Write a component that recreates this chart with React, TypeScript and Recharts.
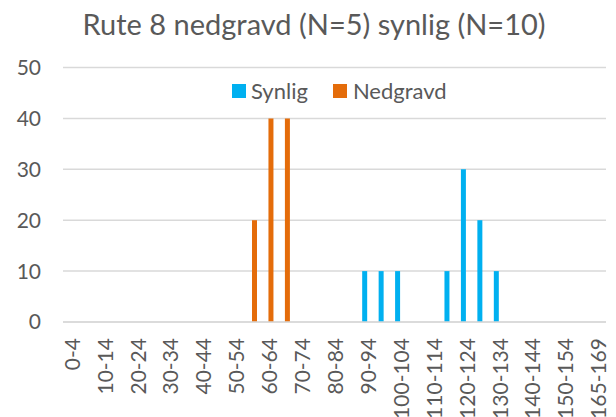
import React from "react";
import { BarChart, Bar, XAxis, YAxis, CartesianGrid, Legend } from "recharts";

const categories = [
  "0-4", "5-9", "10-14", "15-19", "20-24", "25-29", "30-34", "35-39",
  "40-44", "45-49", "50-54", "55-59", "60-64", "65-69", "70-74", "75-79",
  "80-84", "85-89", "90-94", "95-99", "100-104", "105-109", "110-114",
  "115-119", "120-124", "125-129", "130-134", "135-139", "140-144",
  "145-149", "150-154", "155-159", "165-169",
];

const synlig = [
  0, 0, 0, 0, 0, 0, 0, 0, 0, 0, 0, 0, 0, 0, 0, 0, 0, 0,
  10, 10, 10, 0, 0, 10, 30, 20, 10, 0, 0, 0, 0, 0, 0,
];

const nedgravd = [
  0, 0, 0, 0, 0, 0, 0, 0, 0, 0, 0, 20, 40, 40, 0, 0, 0, 0,
  0, 0, 0, 0, 0, 0, 0, 0, 0, 0, 0, 0, 0, 0, 0,
];

const yTicks = [0, 10, 20, 30, 40, 50];

const TITLE = "Rute 8 nedgravd (N=5) synlig (N=10)";
const FONT = "Lato, 'Liberation Sans', sans-serif";
const TEXT = "#595959";
const BLUE = "#00B0F0";
const ORANGE = "#E46C0A";

const data = categories.map((c, i) => ({
  name: c,
  Synlig: synlig[i],
  Nedgravd: nedgravd[i],
}));

// rotated category labels, reading bottom to top like Excel
const XTick = (props: any) => {
  const { x, y, payload } = props;
  return (
    <text
      x={x}
      y={y}
      transform={`rotate(-90 ${x} ${y})`}
      textAnchor="end"
      dominantBaseline="central"
      fill={TEXT}
      fontSize={21}
      fontFamily={FONT}
    >
      {payload.value}
    </text>
  );
};

const LegendBox = () => (
  <div style={{ display: "flex", alignItems: "center", fontFamily: FONT, fontSize: 22, color: TEXT, lineHeight: 1 }}>
    <span style={{ width: 14, height: 14, background: BLUE, display: "inline-block", marginRight: 5 }} />
    <span style={{ marginRight: 25 }}>Synlig</span>
    <span style={{ width: 14, height: 14, background: ORANGE, display: "inline-block", marginRight: 6 }} />
    <span>Nedgravd</span>
  </div>
);

export default function App() {
  return (
    <div style={{ position: "absolute", left: 0, top: 0, width: 616, height: 417, background: "#fff" }}>
      <BarChart
        width={616}
        height={417}
        data={data}
        margin={{ top: 67.5, right: 10, left: 0, bottom: 0 }}
        barGap={0}
        barSize={5}
      >
        <CartesianGrid vertical={false} stroke="#d9d9d9" strokeWidth={1.5} />
        <XAxis
          dataKey="name"
          interval={1}
          height={95}
          tickLine={false}
          tickSize={0}
          axisLine={{ stroke: "#d9d9d9", strokeWidth: 1.5 }}
          tick={<XTick />}
          tickMargin={16}
        />
        <YAxis
          width={63}
          domain={[0, 50]}
          ticks={yTicks}
          axisLine={false}
          tickLine={false}
          tickSize={0}
          tickMargin={22}
          tick={{ fill: TEXT, fontSize: 21, fontFamily: FONT }}
        />
        <Legend
          layout="horizontal"
          verticalAlign="middle"
          align="center"
          wrapperStyle={{ top: 80, left: 232, width: "auto" }}
          content={() => <LegendBox />}
        />
        <Bar dataKey="Synlig" fill={BLUE} isAnimationActive={false} />
        <Bar dataKey="Nedgravd" fill={ORANGE} isAnimationActive={false} />
      </BarChart>
      <svg width={616} height={50} style={{ position: "absolute", left: 0, top: 0, pointerEvents: "none" }}>
        <text x={314} y={35} textAnchor="middle" fill={TEXT} fontSize={29} fontFamily={FONT}>
          {TITLE}
        </text>
      </svg>
    </div>
  );
}
